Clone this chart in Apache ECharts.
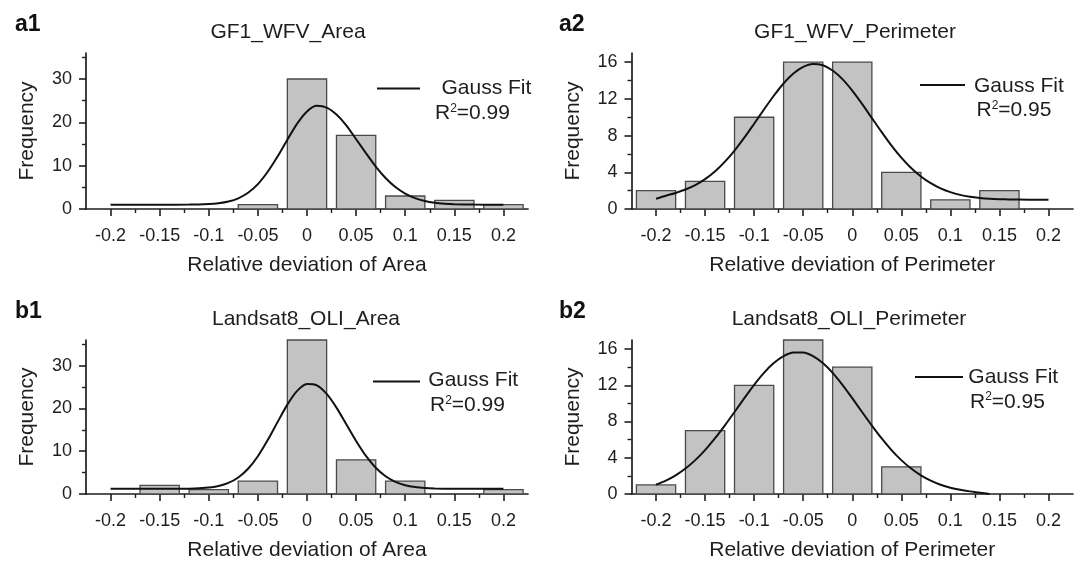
<!DOCTYPE html>
<html>
<head>
<meta charset="utf-8">
<script src="https://cdn.jsdelivr.net/npm/echarts@6/dist/echarts.min.js"></script>
<style>
html,body{margin:0;padding:0;background:#fff;}
#chart{width:1083px;height:562px;}
</style>
</head>
<body>
<div id="chart"></div>
<script>
// ---------- data ----------
const xTicks = [-0.2, -0.15, -0.1, -0.05, 0, 0.05, 0.1, 0.15, 0.2];
const xMinorTicks = [-0.175, -0.125, -0.075, -0.025, 0.025, 0.075, 0.125, 0.175];
const areaYTicks = [0, 10, 20, 30];
const areaYMinor = [5, 15, 25, 35];
const perimYTicks = [0, 4, 8, 12, 16];
const perimYMinor = [2, 6, 10, 14];
const binCenters = [-0.2, -0.15, -0.1, -0.05, 0, 0.05, 0.1, 0.15, 0.2];
const binHalfWidth = 0.02;

const a1Counts = [0, 0, 0, 1, 30, 17, 3, 2, 1];
const a2Counts = [2, 3, 10, 16, 16, 4, 1, 2, 0];
const b1Counts = [0, 2, 1, 3, 36, 8, 3, 0, 1];
const b2Counts = [1, 7, 12, 17, 14, 3, 0, 0, 0];

const a1FitX = [-0.2,-0.15,-0.12,-0.1,-0.09,-0.08,-0.07,-0.06,-0.05,-0.04,-0.03,-0.02,-0.01,0,0.01,0.02,0.03,0.04,0.05,0.06,0.07,0.08,0.09,0.1,0.11,0.12,0.13,0.14,0.15,0.17,0.2];
const a1FitY = [1.0,1.0,1.01,1.14,1.33,1.72,2.47,3.75,5.75,8.6,12.1,16.0,19.7,22.5,23.8,23.4,21.8,19.3,16.1,12.9,9.8,7.15,5.06,3.54,2.5,1.84,1.44,1.22,1.1,1.02,1.0];

const a2FitX = [-0.2,-0.19,-0.18,-0.17,-0.16,-0.15,-0.14,-0.13,-0.12,-0.11,-0.1,-0.09,-0.08,-0.07,-0.06,-0.05,-0.04,-0.03,-0.02,-0.01,0,0.01,0.02,0.03,0.04,0.05,0.06,0.07,0.08,0.09,0.1,0.11,0.12,0.13,0.14,0.15,0.16,0.18,0.2];
const a2FitY = [1.12,1.45,1.75,2.12,2.6,3.25,4.08,5.13,6.37,7.77,9.29,10.84,12.34,13.68,14.76,15.48,15.8,15.66,15.09,14.15,12.9,11.45,9.91,8.37,6.91,5.6,4.47,3.55,2.81,2.25,1.84,1.54,1.34,1.21,1.12,1.07,1.04,1.01,1.0];

const b1FitX = [-0.2,-0.15,-0.12,-0.1,-0.09,-0.08,-0.07,-0.06,-0.05,-0.04,-0.03,-0.02,-0.01,0,0.01,0.02,0.03,0.04,0.05,0.06,0.07,0.08,0.09,0.1,0.11,0.12,0.13,0.15,0.2];
const b1FitY = [1.2,1.2,1.24,1.5,1.87,2.6,3.87,5.9,8.83,12.6,16.8,20.9,24.1,25.7,25.4,23.4,20.2,16.3,12.4,8.9,6.15,4.16,2.85,2.05,1.61,1.38,1.28,1.22,1.2];

const b2FitX = [-0.2,-0.19,-0.18,-0.17,-0.16,-0.15,-0.14,-0.13,-0.12,-0.11,-0.1,-0.09,-0.08,-0.07,-0.06,-0.05,-0.04,-0.03,-0.02,-0.01,0,0.01,0.02,0.03,0.04,0.05,0.06,0.07,0.08,0.09,0.1,0.11,0.12,0.13,0.14];
const b2FitY = [1.02,1.47,2.06,2.81,3.74,4.85,6.13,7.55,9.05,10.58,12.05,13.37,14.45,15.22,15.62,15.62,15.22,14.45,13.37,12.05,10.58,9.05,7.55,6.13,4.85,3.74,2.81,2.06,1.47,1.02,0.69,0.46,0.29,0.15,0];

const panelLabels = ['a1', 'a2', 'b1', 'b2'];
const panelTitles = ['GF1_WFV_Area', 'GF1_WFV_Perimeter', 'Landsat8_OLI_Area', 'Landsat8_OLI_Perimeter'];
const xNames = ['Relative deviation of Area', 'Relative deviation of Perimeter', 'Relative deviation of Area', 'Relative deviation of Perimeter'];
const yName = 'Frequency';
const legendName = 'Gauss Fit';
const r2Values = ['0.99', '0.95', '0.99', '0.95'];
const yMaxes = [36, 17, 36, 17];

// ---------- layout / style ----------
const FONT = '"Liberation Sans", Arial, Helvetica, sans-serif';
const INK = '#1e1e1e';
const grids = [
  {left: 86,    top: 53,  width: 442,   height: 156},
  {left: 631.5, top: 53,  width: 441.5, height: 156},
  {left: 86,    top: 340, width: 442,   height: 156},
  {left: 631.5, top: 340, width: 441.5, height: 156}
];
const counts = [a1Counts, a2Counts, b1Counts, b2Counts];
const fits = [[a1FitX, a1FitY], [a2FitX, a2FitY], [b1FitX, b1FitY], [b2FitX, b2FitY]];
const isArea = [true, false, true, false];

const fmt = v => String(parseFloat(Number(v).toFixed(3)));

const xAxes = [], yAxes = [], series = [];
grids.forEach((g, i) => {
  xAxes.push({
    type: 'value', gridIndex: i, min: -0.225, max: 0.225, position: 'bottom',
    axisLine: {show: true, onZero: false, lineStyle: {color: INK, width: 1.7}},
    axisTick: {show: true, customValues: xTicks, length: 7, lineStyle: {color: INK, width: 1.6}},
    axisLabel: {customValues: xTicks, formatter: fmt, fontSize: 18, color: INK, fontFamily: FONT, margin: 18, hideOverlap: false},
    splitLine: {show: false},
    name: xNames[i], nameLocation: 'middle', nameGap: 46,
    nameTextStyle: {fontSize: 21, color: INK, fontFamily: FONT}
  });
  xAxes.push({
    type: 'value', gridIndex: i, min: -0.225, max: 0.225, position: 'bottom',
    axisLine: {show: false, onZero: false},
    axisTick: {show: true, customValues: xMinorTicks, length: 4, lineStyle: {color: INK, width: 1.4}},
    axisLabel: {show: false}, splitLine: {show: false}
  });
  const yt = isArea[i] ? areaYTicks : perimYTicks;
  const ym = isArea[i] ? areaYMinor : perimYMinor;
  yAxes.push({
    type: 'value', gridIndex: i, min: 0, max: yMaxes[i], position: 'left',
    axisLine: {show: true, onZero: false, lineStyle: {color: INK, width: 1.7}},
    axisTick: {show: true, customValues: yt, length: 7, lineStyle: {color: INK, width: 1.6}},
    axisLabel: {customValues: yt, fontSize: 18, color: INK, fontFamily: FONT, margin: 14},
    splitLine: {show: false},
    name: yName, nameLocation: 'middle', nameGap: 48, nameRotate: 90,
    nameTextStyle: {fontSize: 21, color: INK, fontFamily: FONT}
  });
  yAxes.push({
    type: 'value', gridIndex: i, min: 0, max: yMaxes[i], position: 'left',
    axisLine: {show: false, onZero: false},
    axisTick: {show: true, customValues: ym, length: 4, lineStyle: {color: INK, width: 1.4}},
    axisLabel: {show: false}, splitLine: {show: false}
  });
  const barData = binCenters.map((c, k) => [c, counts[i][k]]).filter(d => d[1] > 0);
  series.push({
    type: 'custom', xAxisIndex: 2 * i, yAxisIndex: 2 * i, z: 2,
    data: barData, encode: {x: 0, y: 1},
    renderItem: (params, api) => {
      const x = api.value(0), y = api.value(1);
      const p0 = api.coord([x - binHalfWidth, y]);
      const p1 = api.coord([x + binHalfWidth, 0]);
      return {
        type: 'rect',
        shape: {x: p0[0], y: p0[1], width: p1[0] - p0[0], height: p1[1] - p0[1]},
        style: {fill: '#c3c3c3', stroke: '#4a4a4a', lineWidth: 1.3}
      };
    }
  });
  series.push({
    type: 'line', xAxisIndex: 2 * i, yAxisIndex: 2 * i, z: 5,
    data: fits[i][0].map((x, k) => [x, fits[i][1][k]]),
    smooth: 0.25, showSymbol: false, symbol: 'none',
    lineStyle: {color: '#111', width: 2}, silent: true
  });
});

// ---------- text decorations ----------
const graphic = [];
const labelPos = [[15, 24.5], [559, 24.5], [15, 311.5], [559, 311.5]];
const titlePos = [[288, 32.5], [855, 32.5], [306, 319.5], [849, 319.5]];
const legendPos = [
  {lx1: 377, lx2: 420, ly: 88.5,  gx: 441.5, gy: 88.5,  rx: 435,   ry: 113.5},
  {lx1: 920, lx2: 965, ly: 85,    gx: 974,   gy: 86.5,  rx: 976.5, ry: 110.5},
  {lx1: 373, lx2: 420, ly: 381.5, gx: 428.3, gy: 380.5, rx: 430,   ry: 405.5},
  {lx1: 915, lx2: 963, ly: 377,   gx: 968.3, gy: 377.5, rx: 970,   ry: 402}
];
panelLabels.forEach((t, i) => {
  graphic.push({type: 'text', x: labelPos[i][0], y: labelPos[i][1], z: 10,
    style: {text: t, font: 'bold 23px ' + FONT, fill: '#111', align: 'left', textAlign: 'left', verticalAlign: 'middle', textVerticalAlign: 'middle'}});
  graphic.push({type: 'text', x: titlePos[i][0], y: titlePos[i][1], z: 10,
    style: {text: panelTitles[i], font: '21px ' + FONT, fill: INK, align: 'center', textAlign: 'center', verticalAlign: 'middle', textVerticalAlign: 'middle'}});
  const L = legendPos[i];
  graphic.push({type: 'line', z: 10, shape: {x1: L.lx1, y1: L.ly, x2: L.lx2, y2: L.ly}, style: {stroke: '#111', lineWidth: 2}});
  graphic.push({type: 'text', x: L.gx, y: L.gy, z: 10,
    style: {text: legendName, font: '21px ' + FONT, fill: INK, align: 'left', textAlign: 'left', verticalAlign: 'middle', textVerticalAlign: 'middle'}});
  graphic.push({type: 'text', x: L.rx, y: L.ry, z: 10,
    style: {
      text: '{a|R}{s|2}{a|=' + r2Values[i] + '}',
      align: 'left', textAlign: 'left', verticalAlign: 'middle', textVerticalAlign: 'middle',
      rich: {
        a: {fontSize: 21, fontFamily: FONT, fill: INK, color: INK, lineHeight: 22},
        s: {fontSize: 12, fontFamily: FONT, fill: INK, color: INK, verticalAlign: 'top', lineHeight: 12}
      }
    }});
});

const chart = echarts.init(document.getElementById('chart'), null, {renderer: 'canvas'});
chart.setOption({
  animation: false,
  backgroundColor: '#fff',
  textStyle: {fontFamily: FONT},
  grid: grids.map(g => Object.assign({containLabel: false}, g)),
  xAxis: xAxes,
  yAxis: yAxes,
  series: series,
  graphic: graphic
});
</script>
</body>
</html>
